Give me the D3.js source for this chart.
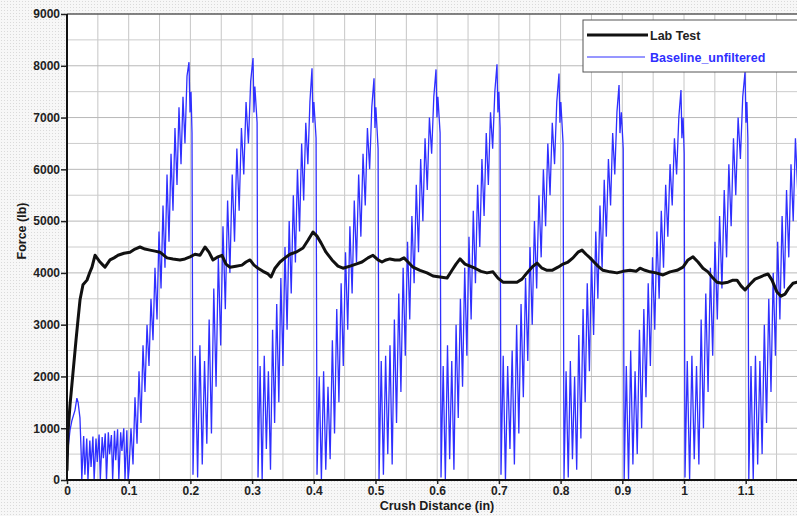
<!DOCTYPE html>
<html>
<head>
<meta charset="utf-8">
<script src="https://cdn.jsdelivr.net/npm/d3@7"></script>
<style>
  html, body { margin: 0; padding: 0; background: #f6f6f6; }
  svg { display: block; }
</style>
</head>
<body>
<svg id="chart" width="797" height="516"></svg>
<script>
// Axis ticks
const xTicks = [0, 0.1, 0.2, 0.3, 0.4, 0.5, 0.6, 0.7, 0.8, 0.9, 1, 1.1];
const yTicks = [0, 1000, 2000, 3000, 4000, 5000, 6000, 7000, 8000, 9000];

// Lab test: crush distance (in) and force (lb)
const labDist = [
  0.000, 0.0016, 0.0049, 0.0097, 0.0146, 0.0178, 0.0211, 0.0259, 0.0324, 0.0373,
  0.0405, 0.0454, 0.0486, 0.0535, 0.0583, 0.0616, 0.0697, 0.0762, 0.0827, 0.0924,
  0.1021, 0.1102, 0.1183, 0.1264, 0.1345, 0.1426, 0.1507, 0.1621, 0.1718, 0.1831,
  0.1912, 0.1994, 0.2075, 0.2156, 0.2237, 0.2301, 0.2366, 0.2447, 0.2512, 0.2577,
  0.2642, 0.2739, 0.2836, 0.2901, 0.2966, 0.3031, 0.3096, 0.3177, 0.3258, 0.3306,
  0.3371, 0.3452, 0.3533, 0.3614, 0.3711, 0.3825, 0.3906, 0.3987, 0.4052, 0.4117,
  0.4198, 0.4295, 0.4392, 0.4473, 0.4587, 0.4684, 0.4781, 0.4878, 0.4959, 0.5041,
  0.5105, 0.5170, 0.5235, 0.5316, 0.5397, 0.5462, 0.5527, 0.5608, 0.5721, 0.5835,
  0.5932, 0.6045, 0.6159, 0.6240, 0.6305, 0.6370, 0.6451, 0.6532, 0.6613, 0.6710,
  0.6807, 0.6904, 0.6985, 0.7066, 0.7180, 0.7293, 0.7374, 0.7455, 0.7536, 0.7618,
  0.7699, 0.7780, 0.7861, 0.7958, 0.8039, 0.8120, 0.8201, 0.8282, 0.8347, 0.8412,
  0.8477, 0.8541, 0.8606, 0.8687, 0.8801, 0.8914, 0.9011, 0.9125, 0.9222, 0.9287,
  0.9368, 0.9449, 0.9546, 0.9660, 0.9773, 0.9887, 0.9984, 1.0065, 1.0146, 1.0227,
  1.0308, 1.0389, 1.0470, 1.0535, 1.0616, 1.0713, 1.0794, 1.0859, 1.0924, 1.0989,
  1.1070, 1.1151, 1.1232, 1.1313, 1.1361, 1.1426, 1.1507, 1.1572, 1.1637, 1.1702,
  1.1767, 1.1831
];
const labForce = [
  190, 910, 1450, 2070, 2700, 3090, 3480, 3770, 3860, 4020,
  4110, 4340, 4290, 4210, 4150, 4110, 4250, 4290, 4340, 4380,
  4400, 4460, 4500, 4460, 4440, 4420, 4400, 4290, 4270, 4250,
  4270, 4310, 4360, 4340, 4500, 4400, 4250, 4310, 4340, 4170,
  4110, 4130, 4150, 4210, 4250, 4150, 4090, 4030, 3980, 3920,
  4090, 4210, 4290, 4360, 4400, 4480, 4630, 4790, 4710, 4580,
  4400, 4250, 4130, 4090, 4130, 4170, 4210, 4290, 4340, 4250,
  4210, 4250, 4270, 4250, 4250, 4290, 4210, 4110, 4050, 4000,
  3940, 3920, 3900, 4050, 4170, 4270, 4170, 4130, 4090, 4030,
  4000, 4020, 3900, 3820, 3820, 3820, 3880, 4000, 4110, 4190,
  4090, 4050, 4050, 4110, 4170, 4210, 4290, 4400, 4440, 4360,
  4290, 4210, 4130, 4050, 4020, 4000, 4030, 4050, 4030, 4090,
  4050, 4020, 4000, 3960, 4020, 4050, 4110, 4250, 4310, 4210,
  4090, 4020, 3900, 3820, 3800, 3820, 3860, 3860, 3750, 3670,
  3780, 3880, 3920, 3960, 3980, 3860, 3630, 3550, 3590, 3710,
  3800, 3820
];

// Baseline_unfiltered simulation: crush distance (in) and force (lb)
const baselineDist = [
  // initial contact
  0.000, 0.002, 0.005, 0.008, 0.013, 0.016, 0.018, 0.021, 0.023, 0.024,
  0.027, 0.029, 0.032, 0.034, 0.037, 0.039, 0.042, 0.044, 0.047, 0.049,
  0.052, 0.054, 0.057, 0.059, 0.062, 0.064, 0.067, 0.069, 0.072, 0.074,
  0.077, 0.079, 0.082, 0.084, 0.087, 0.089, 0.092, 0.094, 0.097, 0.099,
  // fold 1
  0.1005, 0.1037, 0.1070, 0.1102, 0.1135, 0.1167, 0.1199, 0.1232, 0.1264, 0.1297,
  0.1329, 0.1361, 0.1394, 0.1426, 0.1459, 0.1491, 0.1524, 0.1556, 0.1588, 0.1621,
  0.1653, 0.1686, 0.1718, 0.1750, 0.1783, 0.1815, 0.1848, 0.1880, 0.1912, 0.1945,
  0.1977, 0.1994, 0.2010, 0.2026, 0.2042,
  // fold 2
  0.2079, 0.2117, 0.2154, 0.2192, 0.2229, 0.2266, 0.2304, 0.2341, 0.2379, 0.2416,
  0.2453, 0.2491, 0.2528, 0.2566, 0.2603, 0.2640, 0.2678, 0.2715, 0.2753, 0.2790,
  0.2827, 0.2865, 0.2902, 0.2940, 0.2977, 0.3015, 0.3030, 0.3045, 0.3081, 0.3096,
  // fold 3
  0.3130, 0.3163, 0.3197, 0.3231, 0.3264, 0.3298, 0.3332, 0.3365, 0.3399, 0.3433,
  0.3466, 0.3500, 0.3533, 0.3567, 0.3601, 0.3634, 0.3668, 0.3702, 0.3735, 0.3769,
  0.3803, 0.3836, 0.3870, 0.3904, 0.3937, 0.3971, 0.3986, 0.4001, 0.4037, 0.4052,
  // fold 4
  0.4088, 0.4123, 0.4159, 0.4194, 0.4230, 0.4265, 0.4301, 0.4336, 0.4372, 0.4407,
  0.4443, 0.4478, 0.4514, 0.4550, 0.4585, 0.4621, 0.4656, 0.4692, 0.4727, 0.4763,
  0.4798, 0.4834, 0.4869, 0.4905, 0.4940, 0.4976, 0.4991, 0.5006, 0.5042, 0.5057,
  // fold 5
  0.5093, 0.5128, 0.5164, 0.5199, 0.5235, 0.5270, 0.5306, 0.5341, 0.5377, 0.5412,
  0.5448, 0.5483, 0.5519, 0.5555, 0.5590, 0.5626, 0.5661, 0.5697, 0.5732, 0.5768,
  0.5803, 0.5839, 0.5874, 0.5910, 0.5945, 0.5981, 0.5996, 0.6011, 0.6047, 0.6062,
  // fold 6
  0.6097, 0.6132, 0.6167, 0.6202, 0.6236, 0.6271, 0.6306, 0.6341, 0.6376, 0.6411,
  0.6446, 0.6481, 0.6515, 0.6550, 0.6585, 0.6620, 0.6655, 0.6690, 0.6725, 0.6760,
  0.6795, 0.6829, 0.6864, 0.6899, 0.6934, 0.6969, 0.6984, 0.6999, 0.7019, 0.7034,
  // fold 7
  0.7070, 0.7106, 0.7142, 0.7179, 0.7215, 0.7251, 0.7287, 0.7323, 0.7359, 0.7396,
  0.7432, 0.7468, 0.7504, 0.7540, 0.7576, 0.7612, 0.7649, 0.7685, 0.7721, 0.7757,
  0.7793, 0.7829, 0.7865, 0.7902, 0.7938, 0.7974, 0.7989, 0.8004, 0.8040, 0.8055,
  // fold 8
  0.8089, 0.8124, 0.8158, 0.8192, 0.8227, 0.8261, 0.8295, 0.8329, 0.8364, 0.8398,
  0.8432, 0.8467, 0.8501, 0.8535, 0.8570, 0.8604, 0.8638, 0.8673, 0.8707, 0.8741,
  0.8775, 0.8810, 0.8844, 0.8878, 0.8913, 0.8947, 0.8962, 0.8985, 0.9015, 0.9030,
  // fold 9
  0.9065, 0.9101, 0.9136, 0.9172, 0.9207, 0.9242, 0.9278, 0.9313, 0.9349, 0.9384,
  0.9420, 0.9455, 0.9490, 0.9526, 0.9561, 0.9597, 0.9632, 0.9668, 0.9703, 0.9738,
  0.9774, 0.9809, 0.9845, 0.9880, 0.9916, 0.9951, 0.9966, 0.9985, 1.0003, 1.0016,
  // fold 10
  1.0053, 1.0091, 1.0128, 1.0166, 1.0203, 1.0241, 1.0278, 1.0315, 1.0353, 1.0390,
  1.0428, 1.0465, 1.0502, 1.0540, 1.0577, 1.0615, 1.0652, 1.0690, 1.0727, 1.0764,
  1.0802, 1.0839, 1.0877, 1.0914, 1.0952, 1.0989, 1.1004, 1.1019, 1.1035, 1.1050,
  // fold 11 (partial)
  1.1086, 1.1122, 1.1158, 1.1194, 1.1230, 1.1266, 1.1302, 1.1338, 1.1374, 1.1410,
  1.1446, 1.1482, 1.1518, 1.1554, 1.1590, 1.1626, 1.1662, 1.1698, 1.1734, 1.1770,
  1.1806, 1.1842, 1.1878
];
const baselineForce = [
  // initial contact
  300, 650, 970, 1150, 1350, 1580, 1500, 1200, 500, 0,
  850, 100, 800, 0, 760, 250, 840, 0, 800, 350,
  880, 0, 830, 420, 900, 0, 920, 500, 870, 0,
  950, 380, 980, 0, 920, 560, 1000, 0, 960, 0,
  // fold 1
  200, 1000, 300, 1600, 700, 2100, 1100, 2600, 1700, 3000,
  2200, 3500, 2700, 4100, 3100, 4800, 3700, 5300, 4100, 5900,
  4600, 6300, 5200, 6800, 5700, 7200, 6100, 7400, 6500, 7800,
  8070, 7100, 7500, 6700, 100,
  // fold 2
  2400, 50, 2600, 300, 2300, 700, 3100, 900, 3700, 1800,
  4300, 2600, 4900, 3300, 5400, 4000, 5900, 4600, 6400, 5200,
  6800, 5900, 7300, 6500, 7700, 8150, 7100, 7600, 6900, 50,
  // fold 3
  2200, 0, 2400, 600, 2100, 200, 2900, 1100, 3400, 1500,
  3900, 2200, 4500, 2900, 5000, 3600, 5500, 4200, 6000, 4800,
  6500, 5400, 6900, 6100, 7300, 7950, 6900, 7300, 6600, 100,
  // fold 4
  2000, 0, 2100, 200, 1800, 400, 2700, 900, 3300, 1500,
  3800, 2200, 4400, 2900, 4900, 3600, 5400, 4200, 5900, 4700,
  6300, 5300, 6800, 6000, 7200, 7760, 6800, 7200, 6400, 0,
  // fold 5
  2300, 100, 2400, 500, 2600, 300, 3100, 1100, 3600, 1700,
  4100, 2400, 4600, 3100, 5100, 3800, 5700, 4400, 6200, 5000,
  6600, 5600, 7000, 6300, 7400, 7930, 7000, 7400, 6700, 50,
  // fold 6
  2200, 0, 2600, 400, 2300, 200, 3000, 1200, 3500, 1800,
  4100, 2400, 4700, 3100, 5200, 3800, 5700, 4500, 6200, 5100,
  6700, 5700, 7100, 6400, 7500, 8030, 7100, 7500, 6800, 100,
  // fold 7
  2400, 0, 2200, 600, 2500, 300, 3000, 900, 3400, 1600,
  3900, 2300, 4500, 3000, 5000, 3700, 5500, 4300, 6000, 4900,
  6500, 5500, 6900, 6100, 7300, 7850, 6900, 7300, 6500, 0,
  // fold 8
  2100, 50, 2300, 400, 2000, 200, 2800, 800, 3300, 1500,
  3800, 2100, 4300, 2800, 4800, 3500, 5300, 4100, 5800, 4700,
  6200, 5300, 6700, 5900, 7100, 7630, 6700, 7100, 6400, 0,
  // fold 9
  2200, 0, 2500, 300, 2100, 500, 2900, 1000, 3300, 1600,
  3800, 2200, 4300, 2900, 4800, 3500, 5200, 4100, 5700, 4700,
  6100, 5300, 6600, 5900, 7000, 7530, 6600, 7000, 6300, 50,
  // fold 10
  2300, 0, 2400, 400, 2200, 300, 3100, 1000, 3600, 1700,
  4100, 2400, 4600, 3100, 5100, 3700, 5600, 4300, 6100, 4900,
  6600, 5500, 7000, 6200, 7400, 7880, 6900, 7300, 6600, 0,
  // fold 11 (partial)
  2200, 0, 2400, 300, 2300, 500, 3000, 1100, 3500, 1700,
  4000, 2400, 4600, 3100, 5100, 3700, 5600, 4300, 6100, 5000,
  6600, 5600, 7000
];

const seriesNames = ["Lab Test", "Baseline_unfiltered"];
const seriesColors = ["#111111", "#2f2fff"];

const W = 797, H = 516;
const plotLeft = 67, plotTop = 14, plotBottom = 480, plotRight = 797;

const svg = d3.select("#chart");
const defs = svg.append("defs");

// dotted backdrop
const pat = defs.append("pattern").attr("id", "dots")
  .attr("width", 3).attr("height", 3).attr("patternUnits", "userSpaceOnUse");
pat.append("rect").attr("width", 3).attr("height", 3).attr("fill", "#f7f7f7");
pat.append("rect").attr("x", 1).attr("y", 1).attr("width", 1).attr("height", 1).attr("fill", "#dadada");
svg.append("rect").attr("width", W).attr("height", H).attr("fill", "url(#dots)");

defs.append("clipPath").attr("id", "plotClip")
  .append("rect").attr("x", plotLeft).attr("y", plotTop)
  .attr("width", plotRight - plotLeft).attr("height", plotBottom - plotTop);

const x = d3.scaleLinear().domain([0, 1.2]).range([plotLeft, plotLeft + 1.2 * 617]);
const y = d3.scaleLinear().domain([0, 9000]).range([plotBottom, plotTop]);

// plot background
svg.append("rect").attr("x", plotLeft).attr("y", plotTop)
  .attr("width", plotRight - plotLeft).attr("height", plotBottom - plotTop).attr("fill", "#ffffff");

const grid = svg.append("g").attr("clip-path", "url(#plotClip)");
grid.selectAll("line.v").data(x.ticks(24).filter(d => d > 0))
  .join("line").attr("class", "v")
  .attr("x1", d => x(d)).attr("x2", d => x(d))
  .attr("y1", plotTop).attr("y2", plotBottom)
  .attr("stroke", "#c6c6c6").attr("stroke-width", 1);
grid.selectAll("line.h").data(y.ticks(18).filter(d => d > 0 && d < 9000))
  .join("line").attr("class", "h")
  .attr("x1", plotLeft).attr("x2", plotRight)
  .attr("y1", d => y(d)).attr("y2", d => y(d))
  .attr("stroke", d => d % 1000 === 0 ? "#b8b8b8" : "#cccccc").attr("stroke-width", 1);

// series
const plot = svg.append("g").attr("clip-path", "url(#plotClip)");
const baseline = baselineDist.map((d, i) => [d, baselineForce[i]]);
const lab = labDist.map((d, i) => [d, labForce[i]]);
const line = d3.line().x(d => x(d[0])).y(d => y(d[1]));

plot.append("path").datum(baseline)
  .attr("d", line).attr("fill", "none")
  .attr("stroke", seriesColors[1]).attr("stroke-width", 1.3)
  .attr("stroke-linejoin", "miter");
plot.append("path").datum(lab)
  .attr("d", line).attr("fill", "none")
  .attr("stroke", seriesColors[0]).attr("stroke-width", 3)
  .attr("stroke-linejoin", "round").attr("stroke-linecap", "round");

// frame
svg.append("line").attr("x1", plotLeft).attr("x2", plotRight).attr("y1", plotTop).attr("y2", plotTop)
  .attr("stroke", "#5a5a5a").attr("stroke-width", 1.5);

const fontFam = "'Liberation Sans', Arial, sans-serif";

// axes
const xAxis = d3.axisBottom(x).tickValues(xTicks).tickSize(4).tickPadding(2)
  .tickFormat(d => String(d));
const gx = svg.append("g").attr("transform", `translate(0,${plotBottom})`).call(xAxis);
gx.select(".domain").remove();
gx.selectAll(".tick line").attr("stroke", "#222").attr("stroke-width", 1.5);
gx.selectAll(".tick text").attr("font-family", fontFam).attr("font-size", 12)
  .attr("font-weight", "bold").attr("fill", "#222");

const yAxis = d3.axisLeft(y).tickValues(yTicks).tickSize(6).tickPadding(1)
  .tickFormat(d => String(d));
const gy = svg.append("g").attr("transform", `translate(${plotLeft},0)`).call(yAxis);
gy.select(".domain").remove();
gy.selectAll(".tick line").attr("stroke", "#222").attr("stroke-width", 1.5);
gy.selectAll(".tick text").attr("font-family", fontFam).attr("font-size", 12)
  .attr("font-weight", "bold").attr("fill", "#222");

svg.append("line").attr("x1", plotLeft).attr("x2", plotRight).attr("y1", plotBottom).attr("y2", plotBottom)
  .attr("stroke", "#111").attr("stroke-width", 2);
svg.append("line").attr("x1", plotLeft).attr("x2", plotLeft).attr("y1", plotTop).attr("y2", plotBottom + 1)
  .attr("stroke", "#111").attr("stroke-width", 2);

// axis titles
svg.append("text").attr("x", 437).attr("y", 510).attr("text-anchor", "middle")
  .attr("font-family", fontFam).attr("font-size", 12.5).attr("font-weight", "bold").attr("fill", "#1a1a1a")
  .text("Crush Distance (in)");
svg.append("text").attr("transform", "translate(26,231) rotate(-90)").attr("text-anchor", "middle")
  .attr("font-family", fontFam).attr("font-size", 12.5).attr("font-weight", "bold").attr("fill", "#1a1a1a")
  .text("Force (lb)");

// legend
const lg = svg.append("g");
lg.append("rect").attr("x", 583).attr("y", 20).attr("width", 240).attr("height", 52)
  .attr("fill", "#ffffff").attr("stroke", "#555").attr("stroke-width", 1);
const legendRows = [
  { y: 35, w: 3, x2: 648 },
  { y: 57, w: 1, x2: 645 }
];
legendRows.forEach((r, i) => {
  lg.append("line").attr("x1", 587).attr("x2", r.x2).attr("y1", r.y).attr("y2", r.y)
    .attr("stroke", seriesColors[i]).attr("stroke-width", r.w);
  lg.append("text").attr("x", 650).attr("y", r.y + 4.5)
    .attr("font-family", fontFam).attr("font-size", 12.5).attr("font-weight", "bold")
    .attr("fill", i === 0 ? "#222" : "#2f2fff")
    .text(seriesNames[i]);
});
</script>
</body>
</html>
